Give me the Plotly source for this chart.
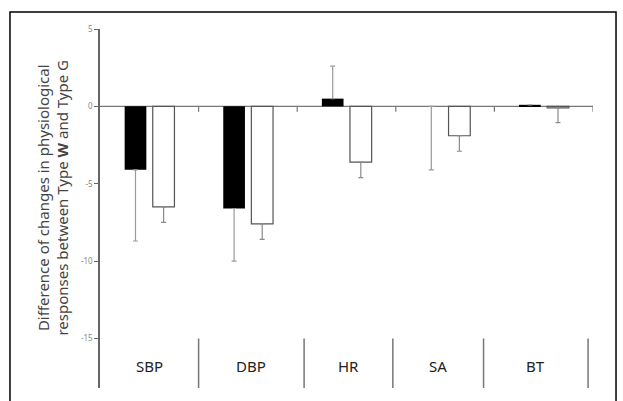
import plotly.graph_objects as go

# Physiological measures and the Type W - Type G differences
categories = ["SBP", "DBP", "HR", "SA", "BT"]
black_values = [-4.1, -6.6, 0.5, 0.0, 0.1]
black_err_plus = [0.0, 0.0, 2.1, 0.0, 0.0]
black_err_minus = [4.6, 3.4, 0.0, 4.1, 0.0]
white_values = [-6.5, -7.6, -3.6, -1.9, -0.1]
white_err_plus = [0.0, 0.0, 0.0, 0.0, 0.0]
white_err_minus = [1.0, 1.0, 1.0, 1.0, 0.95]

y_ticks = [5, 0, -5, -10, -15]
# boundaries of the label row beneath the bars
label_edges = [-0.5, 0.5, 1.57, 2.47, 3.39, 4.45]

x_pos = list(range(len(categories)))

fig = go.Figure()
fig.add_trace(go.Bar(
    x=x_pos, y=black_values, width=0.22, offset=-0.25,
    marker=dict(color="black", line=dict(color="black", width=0)),
    error_y=dict(type="data", symmetric=False, array=black_err_plus,
                 arrayminus=black_err_minus, color="#9a9a9a",
                 thickness=1.2, width=2.5),
    showlegend=False,
))
fig.add_trace(go.Bar(
    x=x_pos, y=white_values, width=0.22, offset=0.035,
    marker=dict(color="white", line=dict(color="#555555", width=1.2)),
    error_y=dict(type="data", symmetric=False, array=white_err_plus,
                 arrayminus=white_err_minus, color="#8a8a8a",
                 thickness=1.2, width=2.5),
    showlegend=False,
))

shapes = []
# zero reference line with small boundary ticks
shapes.append(dict(type="line", xref="x", yref="y", x0=-0.5, x1=4.5, y0=0, y1=0,
                   line=dict(color="#777777", width=1.3), layer="below"))
for b in [0.5, 1.5, 2.5, 3.5, 4.5]:
    shapes.append(dict(type="line", xref="x", yref="y", x0=b, x1=b, y0=0, y1=-0.35,
                       line=dict(color="#777777", width=1.2)))
# separators of the label row
for e in label_edges[1:]:
    shapes.append(dict(type="line", xref="x", yref="y", x0=e, x1=e, y0=-15, y1=-18.2,
                       line=dict(color="#777777", width=1.5)))
# outer frame
shapes.append(dict(type="rect", xref="paper", yref="paper",
                   x0=-0.1826, x1=1.0467, y0=-0.06, y1=1.0474,
                   line=dict(color="black", width=1.5), fillcolor="rgba(0,0,0,0)"))

annotations = []
for i, name in enumerate(categories):
    cx = (label_edges[i] + label_edges[i + 1]) / 2
    annotations.append(dict(x=cx, y=-16.8, xref="x", yref="y", text=name,
                            showarrow=False, font=dict(size=15, color="#222222",
                                                       family="Noto Sans")))
annotations.append(dict(
    x=-0.095, y=0.531, xref="paper", yref="paper", textangle=-90,
    text="Difference of changes in physiological<br>responses between Type <b>W</b> and Type G",
    showarrow=False, font=dict(size=15, color="#444444", family="Noto Sans"),
    xanchor="center", yanchor="middle",
))

fig.update_layout(
    width=623, height=401,
    margin=dict(l=100, r=30, t=29, b=13),
    paper_bgcolor="white", plot_bgcolor="white",
    barmode="overlay",
    shapes=shapes, annotations=annotations,
    xaxis=dict(range=[-0.5, 4.5], showticklabels=False, showgrid=False,
               zeroline=False, showline=False, ticks=""),
    yaxis=dict(range=[-18.2, 5], tickvals=y_ticks, ticktext=[str(v) for v in y_ticks],
               showgrid=False, zeroline=False, showline=True, linecolor="#666666",
               linewidth=1.5, ticks="outside", ticklen=4, tickcolor="#666666",
               tickfont=dict(size=8, color="#888888", family="Noto Sans")),
)

fig.write_html("out.html")
